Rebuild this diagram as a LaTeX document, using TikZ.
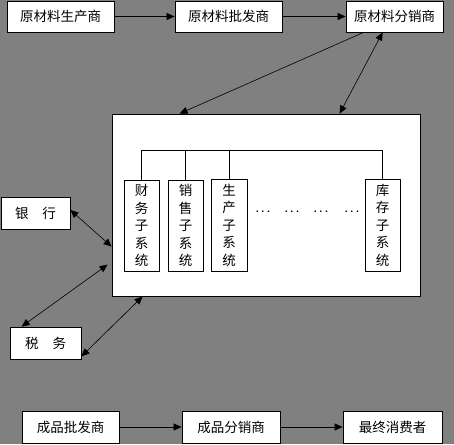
\documentclass[tikz,border=0pt]{standalone}
\usepackage{fontspec}
\newfontfamily\cjk{Noto Sans CJK SC}
\usetikzlibrary{arrows.meta}
\definecolor{bggray}{RGB}{128,128,128}
\begin{document}
\begin{tikzpicture}[x=1pt,y=-1pt,
  box/.style={draw=black, fill=white, line width=0.8pt, inner sep=0pt,
    font=\cjk\fontsize{13.5}{13.5}\selectfont},
  vbox/.style={box, align=center, font=\cjk\fontsize{13.5}{17.5}\selectfont},
  arr/.style={-{Triangle[length=8pt,width=7pt]}, line width=0.6pt},
  dbl/.style={{Triangle[length=8pt,width=7pt]}-{Triangle[length=8pt,width=7pt]}, line width=0.6pt},
  dots/.style={inner sep=0pt, font=\fontsize{11}{11}\selectfont\boldmath}]
\fill[bggray] (0,0) rectangle (454,444);
\useasboundingbox (0,0) rectangle (454,444);
% top row
\node[box, minimum width=107pt, minimum height=31pt] (p1) at (60.5,16.5) {原材料生产商};
\node[box, minimum width=107pt, minimum height=31pt] (p2) at (228.5,16.5) {原材料批发商};
\node[box, minimum width=97pt, minimum height=31pt] (p3) at (394.5,16.5) {原材料分销商};
% big box
\node[box, minimum width=308pt, minimum height=182pt] (big) at (266,205) {};
% subsystems
\node[vbox, minimum width=35pt, minimum height=91pt] (s1) at (141.5,225.5) {财\\务\\子\\系\\统};
\node[vbox, minimum width=35pt, minimum height=91pt] (s2) at (185.5,225.5) {销\\售\\子\\系\\统};
\node[vbox, minimum width=36pt, minimum height=92pt] (s3) at (229,225) {生\\产\\子\\系\\统};
\node[vbox, minimum width=35pt, minimum height=92pt] (s4) at (382.5,225) {库\\存\\子\\系\\统};
\node[dots] (d1) at (263,212) {$\cdots$};
\node[dots] (d2) at (292,212) {$\cdots$};
\node[dots] (d3) at (321,212) {$\cdots$};
\node[dots] (d4) at (352,212) {$\cdots$};
\coordinate (bus) at (0,150);
\draw[line width=0.8pt] (s1.north) -- (s1.north |- bus) -- (s4.north |- bus) -- (s4.north);
\draw[line width=0.8pt] (s2.north) -- (s2.north |- bus);
\draw[line width=0.8pt] (s3.north) -- (s3.north |- bus);
% left boxes
\node[box, minimum width=69pt, minimum height=32pt] (bank) at (35.5,213) {银\hspace{14pt}行};
\node[box, minimum width=71pt, minimum height=32pt] (tax) at (45.5,343) {税\hspace{14pt}务};
% bottom row
\node[box, minimum width=97pt, minimum height=32pt] (f1) at (70.5,427) {成品批发商};
\node[box, minimum width=98pt, minimum height=32pt] (f2) at (231,427) {成品分销商};
\node[box, minimum width=99pt, minimum height=32pt] (f3) at (392.5,427) {最终消费者};
% connectors
\draw[arr] (p1) -- (p2);
\draw[arr] (p2) -- (p3);
\draw[arr] ([xshift=18pt]p3.south west) -- ([xshift=68pt]big.north west);
\draw[dbl] ([xshift=37pt]p3.south west) -- ([xshift=228pt]big.north west);
\draw[dbl] ([yshift=3pt]bank.east) -- ([yshift=-133pt]big.north west);
\coordinate (tx) at ([xshift=-4pt,yshift=-151pt]big.north west);
\draw[dbl] ([xshift=12pt]tax.north west) -- (tx);
\draw[dbl] ([yshift=3pt]tax.south east) -- ([xshift=31pt]big.south west);
\draw[arr] (f1) -- (f2);
\draw[arr] (f2) -- (f3);
\end{tikzpicture}
\end{document}
